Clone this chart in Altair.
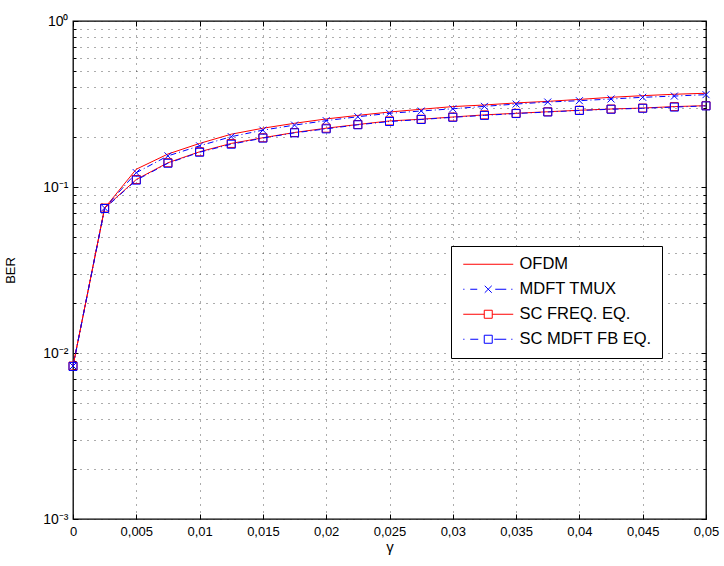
import altair as alt
import pandas as pd

# ---------------- data ----------------
gamma = [0, 0.0025, 0.005, 0.0075, 0.01, 0.0125, 0.015, 0.0175, 0.02, 0.0225, 0.025,
         0.0275, 0.03, 0.0325, 0.035, 0.0375, 0.04, 0.0425, 0.045, 0.0475, 0.05]

ber_ofdm = [0.00835, 0.0747, 0.128, 0.158, 0.183, 0.208, 0.226, 0.242, 0.257, 0.270, 0.283,
            0.294, 0.305, 0.312, 0.321, 0.328, 0.337, 0.347, 0.355, 0.362, 0.367]
ber_tmux = [0.00835, 0.0747, 0.122, 0.154, 0.177, 0.201, 0.220, 0.236, 0.251, 0.265, 0.278,
            0.287, 0.296, 0.306, 0.316, 0.325, 0.331, 0.339, 0.347, 0.353, 0.360]
ber_scfreq = [0.00835, 0.0747, 0.111, 0.140, 0.163, 0.183, 0.198, 0.213, 0.226, 0.238, 0.250,
              0.256, 0.264, 0.272, 0.278, 0.284, 0.290, 0.295, 0.299, 0.305, 0.309]
ber_scmdft = [0.0083, 0.0742, 0.110, 0.139, 0.162, 0.181, 0.197, 0.212, 0.224, 0.237, 0.248,
              0.255, 0.263, 0.270, 0.277, 0.283, 0.289, 0.294, 0.298, 0.303, 0.308]

series_names = ["OFDM", "MDFT TMUX", "SC FREQ. EQ.", "SC MDFT FB EQ."]
series_values = [ber_ofdm, ber_tmux, ber_scfreq, ber_scmdft]
series_colors = ["#ff0000", "#0000ff", "#ff0000", "#0000ff"]

x_ticks = [0, 0.005, 0.01, 0.015, 0.02, 0.025, 0.03, 0.035, 0.04, 0.045, 0.05]
y_decades = [1, 0.1, 0.01, 0.001]
y_decade_labels = ["10⁰", "10⁻¹", "10⁻²", "10⁻³"]
y_minor = [0.002, 0.003, 0.004, 0.005, 0.006, 0.007, 0.008, 0.009,
           0.02, 0.03, 0.04, 0.05, 0.06, 0.07, 0.08, 0.09,
           0.2, 0.3, 0.4, 0.5, 0.6, 0.7, 0.8, 0.9]

rows = []
for name, vals in zip(series_names, series_values):
    for g, b in zip(gamma, vals):
        rows.append({"gamma": g, "ber": b, "series": name})
df = pd.DataFrame(rows)

# ---------------- styling ----------------
FONT = "Liberation Sans"
DASHDOT = [6, 3, 1, 3]
GRID = dict(grid=True, gridColor="#222222", gridDash=[1, 6], gridOpacity=0.75, gridWidth=1)

x_scale = alt.Scale(domain=[0, 0.05], nice=False, zero=False)
y_scale = alt.Scale(type="log", domain=[0.001, 1], nice=False)

y_label_expr = " : ".join(
    f"datum.value == {v} ? '{t}'" for v, t in zip(y_decades, y_decade_labels)
) + " : ''"

x_main = alt.Axis(orient="bottom", values=x_ticks, ticks=False, domain=False,
                  labelExpr="replace(format(datum.value, '.4~f'), '.', ',')",
                  labelFont=FONT, labelFontSize=13, labelColor="black", labelPadding=6,
                  labelFlush=False, labelOverlap=False,
                  title="γ", titleFont=FONT, titleFontSize=15, titleFontWeight="normal",
                  titleColor="black", titleY=32, titleBaseline="alphabetic", **GRID)
y_main = alt.Axis(orient="left", values=y_decades + y_minor, ticks=False, domain=False,
                  labelExpr=y_label_expr, labelFont=FONT, labelFontSize=14,
                  labelColor="black", labelPadding=5, labelFlush=False, labelOverlap=False,
                  title="BER", titleFont=FONT, titleFontSize=13, titleFontWeight="normal",
                  titleColor="black", titleX=-63, titleY=249, titleAngle=-90,
                  titleBaseline="middle", **GRID)


def tick_axis(orient, values, size):
    return alt.Axis(orient=orient, values=values, offset=-size, tickSize=size,
                    tickColor="black", tickWidth=1, labels=False, domain=False,
                    grid=False, title=None)


def enc(chart, xaxis=None, yaxis=None):
    return chart.encode(
        x=alt.X("gamma:Q", scale=x_scale, axis=xaxis),
        y=alt.Y("ber:Q", scale=y_scale, axis=yaxis),
    )


base = alt.Chart(df)


def sel(name):
    return base.transform_filter(alt.datum.series == name)


ofdm_line = enc(sel("OFDM").mark_line(color="#ff0000", strokeWidth=1), x_main, y_main)
tmux_line = enc(sel("MDFT TMUX").mark_line(color="#0000ff", strokeWidth=1, strokeDash=DASHDOT),
                tick_axis("bottom", x_ticks, 5), tick_axis("left", y_decades, 5))
tmux_pts = enc(sel("MDFT TMUX").mark_point(shape="M-1,-1L1,1M-1,1L1,-1", size=49, filled=False,
                                           color="#0000ff", strokeWidth=1, opacity=1),
               tick_axis("top", x_ticks, 5), tick_axis("right", y_decades, 5))
scf_line = enc(sel("SC FREQ. EQ.").mark_line(color="#ff0000", strokeWidth=1),
               None, tick_axis("left", y_minor, 3))
scf_pts = enc(sel("SC FREQ. EQ.").mark_point(shape="square", size=64, filled=False,
                                             color="#ff0000", strokeWidth=1, opacity=1),
              None, tick_axis("right", y_minor, 3))
scm_line = enc(sel("SC MDFT FB EQ.").mark_line(color="#0000ff", strokeWidth=1, strokeDash=DASHDOT))
scm_pts = enc(sel("SC MDFT FB EQ.").mark_point(shape="square", size=64, filled=False,
                                               color="#0000ff", strokeWidth=1, opacity=1))

# ---------------- legend (symbols = line + marker drawn as custom paths) ----------------
SYM = 12.0  # nominal symbol box (px); path units are px/(SYM/2) around the centre


def u(p):
    return (p - SYM / 2) / (SYM / 2)


def seg(a, b):
    return f"M{u(a):.3f},0H{u(b):.3f}"


def xmark(c, h):
    return (f"M{u(c - h):.3f},{-h / 6:.3f}L{u(c + h):.3f},{h / 6:.3f}"
            f"M{u(c - h):.3f},{h / 6:.3f}L{u(c + h):.3f},{-h / 6:.3f}")


def sqmark(c, h):
    return (f"M{u(c - h):.3f},{-h / 6:.3f}H{u(c + h):.3f}V{h / 6:.3f}"
            f"H{u(c - h):.3f}Z")


legend_paths = [
    seg(0, 50),
    seg(0, 1.2) + seg(7, 14) + xmark(25, 3.5) + seg(32, 43) + seg(48, 49.2),
    seg(0, 21) + sqmark(25, 4) + seg(29, 50),
    seg(0, 1.2) + seg(7, 15) + sqmark(25, 4) + seg(31, 43) + seg(48, 49.2),
]

leg = alt.Legend(orient="none", legendX=378, legendY=225, title=None,
                 labelFont=FONT, labelFontSize=16.5, labelColor="black",
                 symbolSize=SYM * SYM, symbolStrokeWidth=1, symbolOpacity=1,
                 labelOffset=42, rowPadding=8, padding=10,
                 strokeColor="black", fillColor="white")

legend_layer = base.transform_filter("false").mark_point(filled=False, opacity=1).encode(
    color=alt.Color("series:N", scale=alt.Scale(domain=series_names, range=series_colors),
                    legend=leg),
    shape=alt.Shape("series:N", scale=alt.Scale(domain=series_names, range=legend_paths),
                    legend=leg),
)

chart = (
    alt.layer(ofdm_line, tmux_line, tmux_pts, scf_line, scf_pts, scm_line, scm_pts, legend_layer)
    .resolve_axis(x="independent", y="independent")
    .properties(width=633, height=498,
                autosize=alt.AutoSizeParams(type="none"),
                padding={"left": 73, "top": 21, "right": 18, "bottom": 47},
                background="white")
    .configure_view(stroke="black", strokeWidth=1.3)
)

chart.save("out.html", embed_options={"renderer": "svg", "actions": False})
